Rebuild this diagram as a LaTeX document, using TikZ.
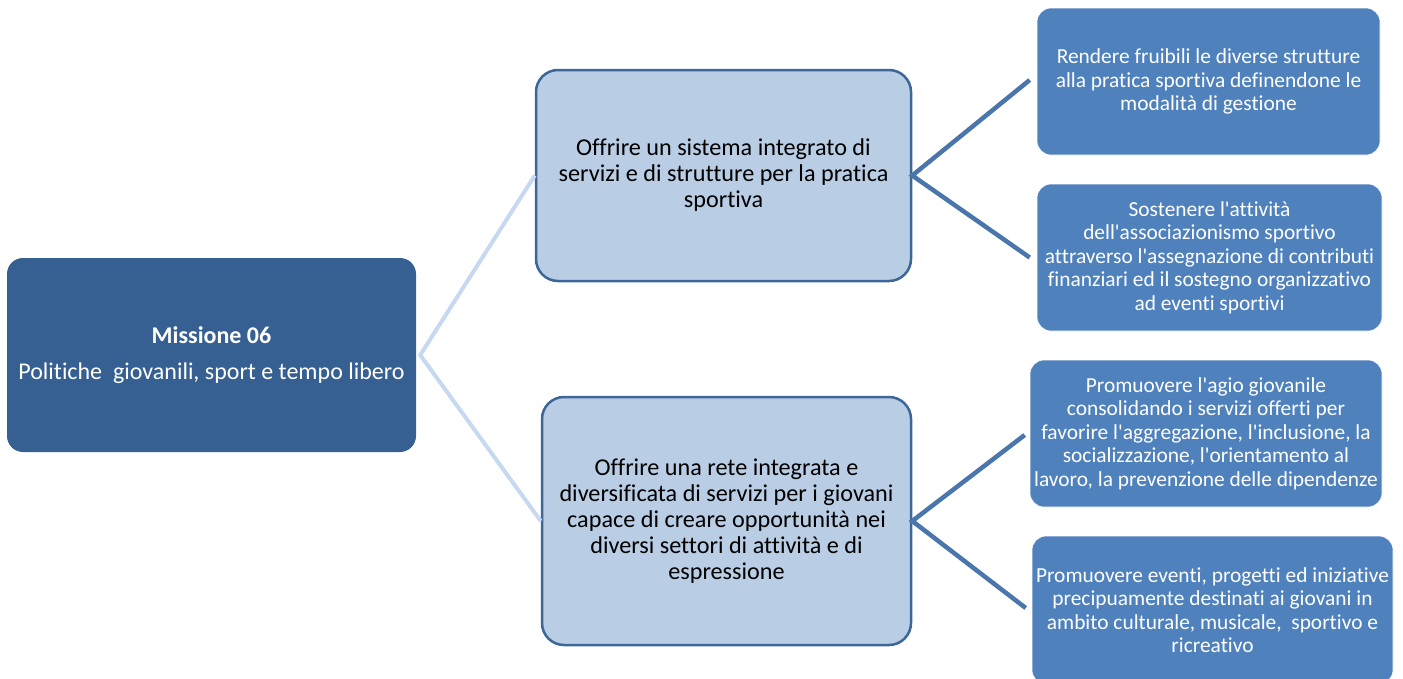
\documentclass[tikz,border=0pt]{standalone}
\usepackage{fontspec}
\setmainfont{Carlito}[Ligatures={TeXOff,NoCommon}]
\definecolor{rootfill}{HTML}{376092}
\definecolor{midfill}{HTML}{B9CDE5}
\definecolor{midborder}{HTML}{3D6699}
\definecolor{leaffill}{HTML}{4F81BD}
\definecolor{rootline}{HTML}{C6D9F1}
\definecolor{midline}{HTML}{4A76AB}
\begin{document}
\begin{tikzpicture}[x=1pt,y=-1pt,
  rootbox/.style={fill=rootfill, draw=none, rounded corners=16pt, text=white,
    align=center, inner sep=0pt, font=\fontsize{24}{28}\selectfont},
  midbox/.style={fill=midfill, draw=midborder, line width=2.5pt, rounded corners=22pt,
    text=black, align=center, inner sep=0pt, font=\fontsize{24.2}{26}\selectfont},
  leafbox/.style={fill=leaffill, draw=white, line width=0.6pt, rounded corners=14pt,
    text=white, align=center, inner sep=0pt, font=\fontsize{21.4}{23.5}\selectfont},
  rootconn/.style={draw=rootline, line width=4pt},
  midconn/.style={draw=midline, line width=4.5pt}]
\useasboundingbox (0,0) rectangle (1403,678);
\clip (0,0) rectangle (1403,678);

\node[rootbox, minimum width=409pt, minimum height=194pt] (root) at (211.5,355)
  {\textbf{Missione 06}\\[8pt]Politiche\ \ giovanili, sport e tempo libero};

\node[midbox, minimum width=375pt, minimum height=211pt] (mid1) at (723.5,175.5)
  {Offrire un sistema integrato di\\servizi e di strutture per la pratica\\sportiva};
\node[midbox, minimum width=369pt, minimum height=248pt] (mid2) at (726.5,521)
  {Offrire una rete integrata e\\diversificata di servizi per i giovani\\capace di creare opportunità nei\\diversi settori di attività e di\\espressione};

\node[leafbox, minimum width=343pt, minimum height=147pt] (leaf1) at (1208.5,81.5)
  {Rendere fruibili le diverse strutture\\alla pratica sportiva definendone le\\modalità di gestione};
\node[leafbox, minimum width=345pt, minimum height=147pt] (leaf2) at (1209.5,257.5)
  {Sostenere l'attività\\dell'associazionismo sportivo\\attraverso l'assegnazione di contributi\\finanziari ed il sostegno organizzativo\\ad eventi sportivi};
\node[leafbox, minimum width=352pt, minimum height=147pt] (leaf3) at (1206,433.5)
  {Promuovere l'agio giovanile\\consolidando i servizi offerti per\\favorire l'aggregazione, l'inclusione, la\\socializzazione, l'orientamento al\\lavoro, la prevenzione delle dipendenze};
\node[leafbox, minimum width=361pt, minimum height=148pt] (leaf4) at (1212.5,610)
  {Promuovere eventi, progetti ed iniziative\\precipuamente destinati ai giovani in\\ambito culturale, musicale,\ \ sportivo e\\ricreativo};

\coordinate (rj) at ([xshift=4pt]root.east);
\coordinate (l1in) at ([xshift=-7pt,yshift=1.5pt]leaf1.west);
\coordinate (l2in) at ([xshift=-7pt]leaf2.west);
\coordinate (l3in) at ([xshift=-5pt,yshift=-1.5pt]leaf3.west);
\coordinate (l4in) at ([xshift=-6pt,yshift=2pt]leaf4.west);

\draw[rootconn, line join=miter] (mid1.west) -- (rj) -- (mid2.west);
\draw[midconn, line join=miter] (l1in) -- (mid1.east) -- (l2in);
\draw[midconn, line join=miter] (l3in) -- (mid2.east) -- (l4in);
\end{tikzpicture}
\end{document}
